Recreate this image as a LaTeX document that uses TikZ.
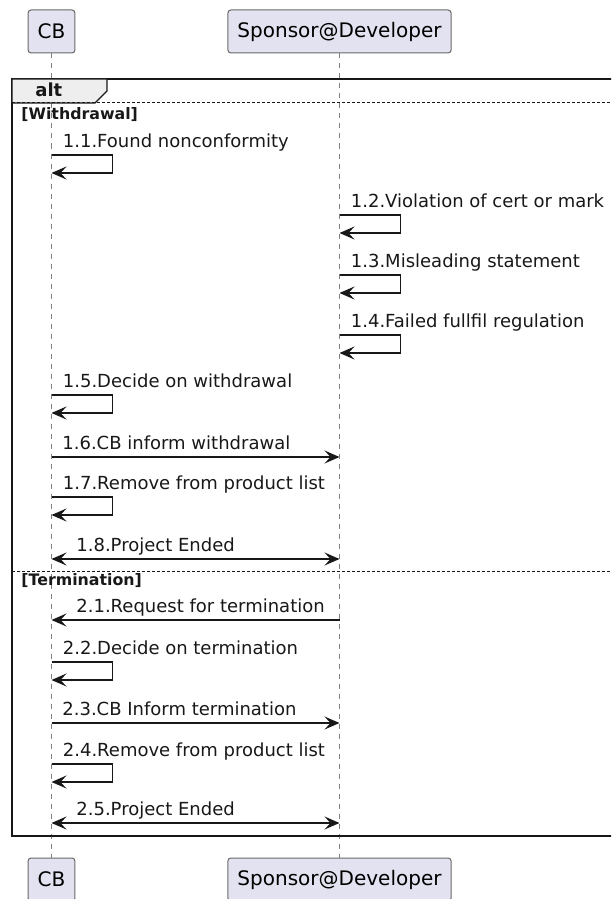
\documentclass[tikz,border=0pt]{standalone}
\usepackage{fontspec}
\setmainfont{DejaVu Sans}
\usepackage{tikz}
\usetikzlibrary{arrows.meta}
\usetikzlibrary{positioning}
\definecolor{lavender}{RGB}{226, 226, 240}
\definecolor{tabgray}{RGB}{238, 238, 238}
\definecolor{inkdark}{RGB}{24, 24, 24}

\tikzset{
  party/.style={draw=inkdark!65, fill=lavender, line width=0.5pt, rounded corners=1.5pt,
                minimum height=21.5pt, inner xsep=4.8pt, font=\fontsize{10}{12}\selectfont},
  life/.style={draw=inkdark!55, line width=0.5pt, dash pattern=on 2.5pt off 2.5pt},
  tip/.tip={Stealth[length=7.5pt, width=6.5pt, inset=3pt]},
  msg/.style={draw=inkdark, line width=0.75pt, -tip},
  both/.style={draw=inkdark, line width=0.75pt, tip-tip},
  lbl/.style={inner sep=0pt, anchor=base west, text=inkdark, font=\fontsize{9}{10}\selectfont},
  guard/.style={inner sep=0pt, anchor=base west, text=inkdark, font=\bfseries\fontsize{7.9}{9}\selectfont},
  altframe/.style={draw=inkdark, line width=1.2pt},
  elsesep/.style={draw=inkdark, line width=0.5pt, dash pattern=on 1.5pt off 1pt},
}

\begin{document}
\begin{tikzpicture}[x=0.5pt, y=-0.5pt]
            \useasboundingbox (0,0) rectangle (611,899);
            \clip (0,0) rectangle (611,899);
            % participants
            \node[party] (cbTop) at ( 51.5, 31.5) {CB};
            \node[party] (spTop) at (339.5, 31.5) {Sponsor@Developer};
            \node[party] (cbBot) at ( 51.5,879.5) {CB};
            \node[party] (spBot) at (339.5,879.5) {Sponsor@Developer};
            \draw[life] (cbTop.south) -- (cbBot.north);
            \draw[life] (spTop.south) -- (spBot.north);
            % alt frame
            \draw[altframe] (12,79) rectangle (640,836);
            \filldraw[fill=tabgray, draw=inkdark, line width=0.7pt] (12,79) -- (107,79) -- (107,91) -- (95,103) -- (12,103) -- cycle;
            \node[lbl, font=\bfseries\fontsize{9}{10}\selectfont] (altLbl) at (35,97) {alt};
            \draw[elsesep] (12,103) -- (640,103);
            \draw[elsesep] (12,571) -- (640,571);
            \node[guard] (grdA) at (21,119.5) {[Withdrawal]};
            \node[guard] (grdB) at (21,585.5) {[Termination]};
            % self messages
            \foreach \who/\y/\txt in {cbTop/155/1.1.Found nonconformity,
                                      spTop/215/1.2.Violation of cert or mark,
                                      spTop/275/1.3.Misleading statement,
                                      spTop/335/1.4.Failed fullfil regulation,
                                      cbTop/395/1.5.Decide on withdrawal,
                                      cbTop/497/1.7.Remove from product list,
                                      cbTop/662/2.2.Decide on termination,
                                      cbTop/764/2.4.Remove from product list}{
                \draw[msg] (\who.south |- 0,\y) -- ++(61,0) -- ++(0,18) -- ++(-61,0);
                \path (\who.south |- 0,\y) ++(11,-7.5) node[lbl] (self\y) {\txt};
            }
            % messages between lifelines
            \draw[msg]  (cbTop.south |- 0,457) -- (spTop.south |- 0,457);
            \draw[both] (cbTop.south |- 0,559) -- (spTop.south |- 0,559);
            \draw[msg]  (spTop.south |- 0,620) -- (cbTop.south |- 0,620);
            \draw[msg]  (cbTop.south |- 0,723) -- (spTop.south |- 0,723);
            \draw[both] (cbTop.south |- 0,823) -- (spTop.south |- 0,823);
            \node[lbl] (m16) at (62,449.5) {1.6.CB inform withdrawal};
            \node[lbl] (m18) at (76,551.5) {1.8.Project Ended};
            \node[lbl] (m21) at (76,612.5) {2.1.Request for termination};
            \node[lbl] (m23) at (62,715.5) {2.3.CB Inform termination};
            \node[lbl] (m25) at (76,815.5) {2.5.Project Ended};
        \end{tikzpicture}
\end{document}
